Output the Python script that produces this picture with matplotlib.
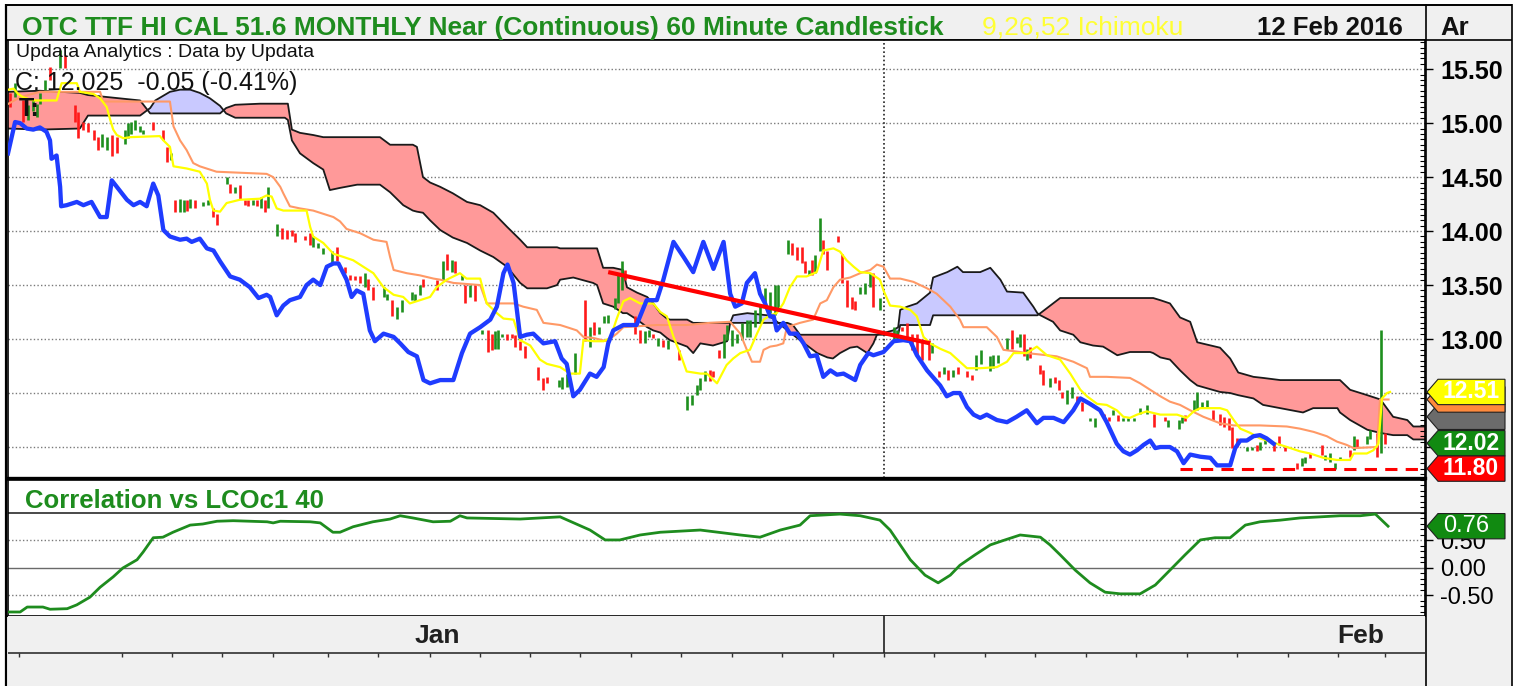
import numpy as np
import matplotlib
matplotlib.use("Agg")
import matplotlib.pyplot as plt
from matplotlib.patches import Polygon, Rectangle
from matplotlib.ticker import MultipleLocator
import matplotlib.transforms as mtransforms

plt.rcParams['font.family'] = ['Liberation Sans', 'DejaVu Sans']

# ---------------- DATA (x in trading-day units, prices) ----------------
title_text = "OTC TTF HI CAL 51.6 MONTHLY Near (Continuous) 60 Minute Candlestick"
study_text = "9,26,52 Ichimoku"
date_text = "12 Feb 2016"
corr_title = "Correlation vs LCOc1 40"
info_text = "Updata Analytics : Data by Updata"
close_text = "C: 12.025  -0.05 (-0.41%)"

price_ticks = [12.0, 12.5, 13.0, 13.5, 14.0, 14.5, 15.0, 15.5]
corr_ticks = [-0.5, 0.0, 0.5]
day_ticks = [0.22, 2.25, 3.24, 4.23, 5.24, 6.32, 7.31, 8.34, 9.33, 10.32, 11.30, 12.31, 13.30,
             14.31, 15.30, 16.30, 17.31, 18.30, 19.31, 20.30, 21.30, 22.29, 23.30, 24.29, 25.30,
             26.28, 27.21]
month_names = ["Jan", "Feb"]
month_label_pos = [8.48, 26.72]
month_break = 17.31

cloud_t = [0.00, 0.63, 1.42, 1.58, 2.21, 2.61, 2.81, 2.91, 3.20, 3.40,
           3.60, 3.79, 3.99, 4.19, 4.31, 4.49, 4.98, 5.47, 5.53, 5.61,
           5.77, 6.03, 6.23, 6.36, 6.56, 6.90, 7.35, 7.55, 7.81, 8.00,
           8.08, 8.20, 8.34, 8.54, 8.79, 9.07, 9.33, 9.59, 9.86, 10.12,
           10.26, 10.38, 10.65, 10.85, 10.91, 11.17, 11.56, 11.64, 11.76, 11.96,
           12.15, 12.23, 12.43, 12.63, 12.75, 12.89, 13.02, 13.08, 13.42, 13.54,
           13.68, 13.93, 14.21, 14.27, 14.33, 14.61, 15.00, 15.12, 15.40, 15.51,
           15.65, 15.79, 15.99, 16.19, 16.30, 16.44, 16.64, 16.78, 16.98, 17.10,
           17.17, 17.49, 17.59, 17.63, 17.77, 17.96, 18.22, 18.28, 18.56, 18.76,
           18.87, 19.21, 19.41, 19.61, 19.74, 20.06, 20.26, 20.34, 20.40, 20.65,
           20.79, 21.05, 21.19, 21.44, 21.64, 21.92, 22.17, 22.57, 22.63, 22.77,
           22.96, 23.16, 23.36, 23.50, 23.95, 24.15, 24.31, 24.61, 24.80, 25.14,
           25.59, 25.79, 26.27, 26.32, 26.52, 26.86, 27.12, 27.37, 27.65, 27.77,
           28.00]
span_b = [15.29, 15.30, 15.28, 15.26, 15.23, 15.21, 15.09, 15.09, 15.09, 15.09,
          15.09, 15.09, 15.09, 15.09, 15.14, 15.17, 15.18, 15.18, 15.18, 14.94,
          14.91, 14.89, 14.87, 14.87, 14.87, 14.87, 14.87, 14.80, 14.80, 14.80,
          14.78, 14.50, 14.45, 14.41, 14.35, 14.27, 14.24, 14.17, 14.04, 13.92,
          13.85, 13.85, 13.85, 13.85, 13.84, 13.84, 13.84, 13.84, 13.66, 13.66,
          13.64, 13.48, 13.43, 13.39, 13.33, 13.24, 13.19, 13.18, 13.18, 13.15,
          13.15, 13.15, 13.15, 13.15, 13.15, 13.15, 13.15, 13.15, 13.15, 13.13,
          13.04, 13.04, 13.04, 13.04, 13.04, 13.04, 13.04, 13.04, 13.04, 13.04,
          13.04, 13.04, 13.04, 13.13, 13.13, 13.13, 13.13, 13.22, 13.22, 13.22,
          13.22, 13.22, 13.22, 13.22, 13.22, 13.22, 13.22, 13.22, 13.24, 13.33,
          13.38, 13.38, 13.38, 13.38, 13.38, 13.38, 13.38, 13.38, 13.38, 13.36,
          13.33, 13.20, 13.16, 12.97, 12.92, 12.82, 12.69, 12.65, 12.64, 12.62,
          12.62, 12.62, 12.62, 12.62, 12.53, 12.48, 12.44, 12.28, 12.25, 12.19,
          12.19]
span_a = [14.95, 14.94, 14.95, 15.07, 15.07, 15.07, 15.14, 15.21, 15.29, 15.31,
          15.31, 15.28, 15.23, 15.16, 15.09, 15.05, 15.05, 15.05, 15.03, 14.84,
          14.72, 14.63, 14.57, 14.38, 14.40, 14.43, 14.43, 14.36, 14.24, 14.19,
          14.18, 14.17, 14.10, 14.01, 13.94, 13.89, 13.82, 13.76, 13.67, 13.52,
          13.47, 13.47, 13.47, 13.50, 13.55, 13.57, 13.52, 13.50, 13.33, 13.30,
          13.24, 13.24, 13.18, 13.11, 13.08, 13.06, 13.01, 12.99, 12.93, 12.87,
          12.96, 12.94, 12.98, 13.15, 13.22, 13.24, 13.22, 13.19, 13.08, 13.04,
          12.99, 12.94, 12.87, 12.83, 12.82, 12.87, 12.92, 12.93, 12.87, 12.96,
          13.04, 13.08, 13.11, 13.27, 13.30, 13.33, 13.43, 13.57, 13.62, 13.67,
          13.62, 13.62, 13.66, 13.55, 13.44, 13.43, 13.30, 13.24, 13.22, 13.16,
          13.08, 13.04, 12.97, 12.94, 12.93, 12.85, 12.88, 12.88, 12.87, 12.83,
          12.81, 12.71, 12.62, 12.57, 12.51, 12.50, 12.48, 12.45, 12.39, 12.36,
          12.32, 12.36, 12.36, 12.32, 12.25, 12.16, 12.13, 12.11, 12.11, 12.07,
          12.07]

tenkan_t = [0.01, 0.11, 0.20, 0.30, 0.50, 0.96, 1.06, 1.36, 1.42, 1.69,
            1.82, 1.95, 2.02, 2.08, 2.15, 2.28, 2.41, 3.00, 3.07, 3.20,
            3.27, 3.53, 3.79, 3.93, 3.99, 4.06, 4.19, 4.32, 4.58, 4.98,
            5.11, 5.21, 5.31, 5.44, 5.90, 5.97, 6.03, 6.23, 6.43, 6.63,
            6.82, 7.02, 7.22, 7.42, 7.62, 7.81, 7.94, 8.14, 8.34, 8.47,
            8.67, 8.80, 8.93, 9.06, 9.33, 9.46, 9.66, 9.79, 9.99, 10.12,
            10.32, 10.51, 10.65, 10.91, 11.11, 11.30, 11.37, 11.57, 11.77, 11.90,
            12.03, 12.16, 12.29, 12.49, 12.75, 12.89, 13.02, 13.15, 13.28, 13.41,
            13.68, 13.81, 14.01, 14.20, 14.33, 14.47, 14.66, 14.80, 14.93, 15.06,
            15.19, 15.32, 15.45, 15.59, 15.78, 15.98, 16.11, 16.31, 16.44, 16.57,
            16.71, 16.84, 17.04, 17.23, 17.30, 17.43, 17.63, 17.83, 17.96, 18.09,
            18.22, 18.42, 18.62, 18.81, 18.95, 19.21, 19.54, 19.74, 19.87, 20.13,
            20.33, 20.53, 20.79, 20.99, 21.19, 21.32, 21.52, 21.71, 21.91, 22.04,
            22.17, 22.31, 22.50, 22.77, 23.10, 23.29, 23.43, 23.56, 23.95, 24.09,
            24.22, 24.35, 24.55, 24.74, 24.94, 25.14, 25.34, 25.53, 25.73, 25.99,
            26.26, 26.52, 26.59, 26.85, 26.98, 27.08, 27.15, 27.25, 27.31]
tenkan_p = [15.31, 15.32, 15.27, 15.24, 15.21, 15.21, 15.37, 15.37, 15.29, 15.27,
            15.23, 15.15, 15.03, 14.94, 14.89, 14.86, 14.87, 14.88, 14.84, 14.78,
            14.60, 14.58, 14.55, 14.44, 14.29, 14.19, 14.18, 14.26, 14.29, 14.30,
            14.33, 14.32, 14.21, 14.19, 14.19, 14.04, 13.95, 13.89, 13.79, 13.76,
            13.73, 13.67, 13.61, 13.48, 13.41, 13.39, 13.33, 13.36, 13.39, 13.48,
            13.55, 13.58, 13.61, 13.56, 13.56, 13.33, 13.24, 13.19, 13.18, 12.99,
            12.94, 12.81, 12.77, 12.74, 12.68, 12.68, 12.99, 12.98, 12.98, 13.01,
            13.19, 13.35, 13.38, 13.33, 13.33, 13.25, 13.21, 13.02, 12.87, 12.70,
            12.68, 12.68, 12.59, 12.76, 12.82, 12.87, 12.90, 13.05, 13.18, 13.22,
            13.24, 13.33, 13.48, 13.58, 13.58, 13.62, 13.82, 13.84, 13.81, 13.73,
            13.67, 13.62, 13.61, 13.55, 13.45, 13.31, 13.30, 13.27, 13.21, 13.02,
            12.96, 12.91, 12.87, 12.79, 12.73, 12.73, 12.74, 12.79, 12.87, 12.87,
            12.93, 12.85, 12.81, 12.68, 12.53, 12.47, 12.40, 12.39, 12.34, 12.28,
            12.27, 12.30, 12.33, 12.30, 12.30, 12.27, 12.33, 12.36, 12.36, 12.34,
            12.25, 12.17, 12.13, 12.08, 12.05, 12.02, 11.99, 11.96, 11.94, 11.90,
            11.88, 11.88, 11.94, 11.94, 11.97, 12.03, 12.45, 12.50, 12.51]

kijun_t = [0.01, 0.24, 0.63, 1.82, 1.88, 3.20, 3.27, 3.40, 3.53, 3.66,
           3.79, 4.12, 5.11, 5.24, 5.38, 5.44, 5.57, 5.77, 6.03, 6.23,
           6.43, 6.56, 6.69, 6.96, 7.22, 7.48, 7.55, 7.62, 7.88, 8.14,
           8.41, 8.54, 8.80, 9.33, 9.46, 9.99, 10.18, 10.45, 10.58, 10.91,
           11.11, 11.24, 11.37, 11.57, 11.83, 12.03, 12.16, 12.82, 13.41, 13.87,
           14.27, 14.47, 14.60, 14.70, 14.86, 14.93, 15.06, 15.19, 15.32, 15.39,
           15.65, 15.91, 16.05, 16.18, 16.31, 16.44, 16.64, 16.84, 17.04, 17.17,
           17.30, 17.43, 17.63, 17.89, 18.16, 18.35, 18.62, 18.81, 18.88, 19.34,
           19.54, 19.67, 20.00, 20.13, 20.53, 20.72, 21.05, 21.32, 21.38, 21.71,
           22.17, 22.37, 22.57, 22.77, 22.96, 23.16, 23.36, 23.62, 23.95, 24.22,
           24.74, 25.27, 25.53, 25.80, 26.06, 26.26, 26.45, 26.59, 27.05, 27.11, 27.28]
kijun_p = [15.18, 15.24, 15.29, 15.29, 15.20, 15.20, 14.97, 14.84, 14.75, 14.63,
           14.60, 14.55, 14.53, 14.50, 14.41, 14.35, 14.23, 14.21, 14.19, 14.16,
           14.13, 14.09, 14.02, 13.98, 13.92, 13.90, 13.76, 13.64, 13.61, 13.59,
           13.56, 13.55, 13.52, 13.50, 13.33, 13.33, 13.30, 13.27, 13.15, 13.13,
           13.10, 13.08, 13.02, 13.01, 12.98, 13.05, 13.11, 13.13, 13.13, 13.15,
           13.16, 13.05, 12.90, 12.79, 12.79, 12.90, 12.93, 12.94, 12.96, 13.11,
           13.15, 13.18, 13.33, 13.36, 13.48, 13.55, 13.57, 13.61, 13.64, 13.69,
           13.67, 13.56, 13.56, 13.53, 13.47, 13.42, 13.30, 13.18, 13.11, 13.11,
           13.02, 12.90, 12.88, 12.87, 12.85, 12.84, 12.79, 12.73, 12.65, 12.65,
           12.64, 12.59, 12.53, 12.47, 12.42, 12.39, 12.34, 12.28, 12.22, 12.20,
           12.20, 12.19, 12.17, 12.14, 12.10, 12.05, 12.02, 11.99, 12.00, 12.44, 12.44]

chikou_t = [0.00, 0.14, 0.24, 0.37, 0.50, 0.63, 0.76, 0.83, 0.86, 0.96,
            1.03, 1.05, 1.16, 1.36, 1.49, 1.65, 1.82, 1.95, 2.05, 2.15,
            2.35, 2.48, 2.61, 2.74, 2.87, 2.97, 3.07, 3.20, 3.40, 3.53,
            3.63, 3.79, 3.93, 4.06, 4.19, 4.39, 4.58, 4.78, 4.95, 5.11,
            5.18, 5.31, 5.44, 5.57, 5.77, 5.90, 6.03, 6.17, 6.30, 6.43,
            6.53, 6.69, 6.79, 6.89, 7.02, 7.15, 7.25, 7.42, 7.62, 7.75,
            7.91, 8.08, 8.21, 8.34, 8.54, 8.80, 8.97, 9.13, 9.33, 9.53,
            9.66, 9.79, 9.87, 9.99, 10.12, 10.25, 10.38, 10.58, 10.81, 10.94,
            11.04, 11.17, 11.30, 11.50, 11.63, 11.77, 11.86, 11.96, 12.16, 12.42,
            12.62, 12.82, 12.95, 13.15, 13.35, 13.54, 13.74, 13.94, 14.14, 14.27,
            14.37, 14.50, 14.60, 14.76, 14.86, 14.96, 15.06, 15.13, 15.19, 15.32,
            15.45, 15.59, 15.72, 15.85, 15.98, 16.11, 16.25, 16.38, 16.51, 16.74,
            16.84, 17.00, 17.10, 17.30, 17.50, 17.69, 17.83, 17.96, 18.16, 18.29,
            18.42, 18.55, 18.68, 18.81, 18.95, 19.08, 19.21, 19.34, 19.54, 19.74,
            19.93, 20.13, 20.33, 20.46, 20.66, 20.86, 21.05, 21.19, 21.38, 21.58,
            21.71, 21.91, 22.04, 22.17, 22.31, 22.44, 22.57, 22.67, 22.77, 22.96,
            23.10, 23.23, 23.36, 23.56, 23.76, 23.89, 24.15, 24.25, 24.35, 24.48,
            24.61, 24.74, 24.87, 25.01]
chikou_p = [14.72, 15.01, 15.00, 14.95, 14.94, 14.96, 14.92, 14.84, 14.67, 14.70,
            14.41, 14.23, 14.24, 14.27, 14.24, 14.27, 14.13, 14.13, 14.47, 14.41,
            14.29, 14.24, 14.27, 14.23, 14.44, 14.33, 14.01, 13.95, 13.92, 13.93,
            13.90, 13.93, 13.84, 13.82, 13.72, 13.58, 13.55, 13.48, 13.38, 13.41,
            13.39, 13.22, 13.31, 13.36, 13.39, 13.50, 13.55, 13.50, 13.67, 13.70,
            13.70, 13.55, 13.39, 13.45, 13.42, 13.08, 12.98, 13.05, 13.02, 12.96,
            12.88, 12.84, 12.62, 12.59, 12.62, 12.62, 12.87, 13.05, 13.11, 13.18,
            13.30, 13.61, 13.69, 13.52, 13.02, 13.04, 13.05, 12.96, 12.98, 12.82,
            12.77, 12.47, 12.53, 12.68, 12.65, 12.74, 12.96, 13.08, 13.13, 13.13,
            13.36, 13.36, 13.55, 13.90, 13.76, 13.62, 13.90, 13.65, 13.90, 13.42,
            13.30, 13.33, 13.52, 13.61, 13.42, 13.33, 13.21, 13.21, 13.08, 13.15,
            13.05, 13.05, 12.96, 12.84, 12.85, 12.65, 12.71, 12.67, 12.68, 12.62,
            12.76, 12.87, 12.85, 12.88, 12.98, 12.99, 12.98, 12.85, 12.71, 12.64,
            12.57, 12.47, 12.50, 12.50, 12.37, 12.30, 12.27, 12.30, 12.25, 12.23,
            12.28, 12.34, 12.22, 12.27, 12.27, 12.23, 12.34, 12.45, 12.40, 12.34,
            12.23, 12.03, 11.96, 11.93, 11.97, 12.02, 12.06, 11.99, 12.00, 12.00,
            11.96, 11.85, 11.93, 11.91, 11.90, 11.83, 11.83, 11.99, 12.06, 12.06,
            12.10, 12.11, 12.08, 12.03]

candle_t = [0.04, 0.14, 0.30, 0.40, 0.50, 0.57, 0.63, 0.73, 0.83, 1.03, 1.13, 1.32, 1.39, 1.49, 1.59,
            1.69, 1.77, 1.85, 1.95, 2.05, 2.15, 2.31, 2.38, 2.44, 2.51, 2.61, 2.67, 2.87, 3.07, 3.14,
            3.23, 3.30, 3.40, 3.47, 3.53, 3.60, 3.70, 3.86, 3.96, 4.06, 4.12, 4.32, 4.39, 4.49, 4.59,
            4.68, 4.75, 4.85, 4.92, 5.00, 5.07, 5.13, 5.31,
            5.41, 5.51, 5.61, 5.67, 5.87, 5.97, 6.03, 6.13, 6.23, 6.40,
            6.50, 6.66, 6.76, 6.86, 6.96, 7.06, 7.12, 7.22, 7.42, 7.48,
            7.58, 7.68, 7.78, 7.98, 8.04, 8.14, 8.21, 8.47, 8.60, 8.67,
            8.77, 8.83, 8.97, 9.03, 9.13, 9.23, 9.36, 9.49, 9.56, 9.62,
            9.69, 9.76, 9.86, 9.95, 10.02, 10.12, 10.22, 10.48, 10.58, 10.65,
            10.88, 10.94, 11.04,
            11.21, 11.40, 11.50, 11.57, 11.67, 11.77, 11.86, 12.00, 12.06, 12.13,
            12.19, 12.39, 12.49, 12.59, 12.66, 12.75, 12.85, 12.95, 13.05, 13.25,
            13.41, 13.51, 13.61, 13.68, 13.77, 13.87, 13.94, 14.04, 14.14, 14.20,
            14.30, 14.40, 14.50, 14.60, 14.66, 14.76, 14.86, 14.96, 15.06, 15.16,
            15.22, 15.42, 15.49, 15.59, 15.69, 15.75, 15.82, 15.88, 15.95, 16.05,
            16.11, 16.18, 16.41, 16.48, 16.57,
            16.67, 16.74, 16.84, 16.94, 17.04, 17.10, 17.23, 17.50, 17.56, 17.66,
            17.76, 17.86, 17.96, 18.06, 18.19, 18.25, 18.39, 18.49, 18.58, 18.68,
            18.78, 18.95, 19.05, 19.13, 19.22, 19.41, 19.47, 19.57, 19.74, 19.84,
            19.93, 20.00, 20.07, 20.13, 20.20, 20.40, 20.46, 20.59, 20.69, 20.76,
            20.82, 20.92, 21.02, 21.12, 21.22, 21.38, 21.48, 21.65, 21.75, 21.84,
            21.94, 22.04, 22.14,
            22.24, 22.37, 22.50, 22.64, 22.87, 22.93, 23.13, 23.20, 23.26, 23.43,
            23.49, 23.59, 23.69, 23.82, 23.95, 24.02, 24.12, 24.18, 24.28, 24.48,
            24.58, 24.68, 24.74, 24.84, 25.01, 25.11, 25.24, 25.47, 25.57, 25.63,
            25.73, 25.96, 26.03, 26.13, 26.23, 26.32, 26.52, 26.59, 26.65, 26.85,
            26.92, 27.05, 27.13, 27.21]
candle_low = [15.15, 15.24, 15.01, 15.03, 15.11, 15.06, 15.18, 15.31, 15.40, 15.51, 15.51, 15.01, 14.86, 14.94, 14.92,
              14.84, 14.75, 14.78, 14.75, 14.70, 14.72, 14.81, 14.86, 14.90, 14.94, 14.92, 14.90, 14.94, 14.84, 14.64,
              14.66, 14.18, 14.18, 14.18, 14.19, 14.21, 14.21, 14.23, 14.24, 14.13, 14.06, 14.44, 14.35, 14.35, 14.30,
              14.24, 14.23, 14.24, 14.23, 14.21, 14.18, 14.21, 13.95,
              13.93, 13.93, 13.95, 13.90, 13.92, 13.87, 13.85, 13.84, 13.79, 13.70,
              13.72, 13.61, 13.55, 13.55, 13.52, 13.48, 13.45, 13.36, 13.39, 13.36,
              13.21, 13.19, 13.25, 13.36, 13.35, 13.41, 13.48, 13.45, 13.55, 13.64,
              13.62, 13.61, 13.55, 13.33, 13.39, 13.35, 13.05, 12.88, 12.90, 12.91,
              12.91, 13.02, 12.99, 13.01, 12.93, 12.90, 12.82, 12.62, 12.53, 12.59,
              12.56, 12.54, 12.56,
              12.68, 12.98, 12.93, 13.04, 13.05, 13.15, 13.15, 13.28, 13.33, 13.45,
              13.55, 13.05, 12.96, 12.96, 13.02, 13.01, 12.94, 12.93, 12.91, 12.81,
              12.34, 12.39, 12.48, 12.53, 12.61, 12.61, 12.65, 12.82, 12.82, 12.99,
              12.94, 12.96, 12.99, 13.02, 13.02, 13.11, 13.15, 13.30, 13.24, 13.22,
              13.27, 13.79, 13.78, 13.73, 13.70, 13.61, 13.59, 13.59, 13.61, 13.82,
              13.79, 13.64, 13.90, 13.52, 13.30,
              13.28, 13.27, 13.42, 13.42, 13.48, 13.30, 13.27, 12.99, 12.99, 13.07,
              13.02, 12.90, 12.84, 12.81, 12.81, 12.87, 12.65, 12.68, 12.62, 12.65,
              12.68, 12.65, 12.62, 12.71, 12.77, 12.70, 12.73, 12.78, 12.90, 12.91,
              12.96, 12.93, 12.84, 12.81, 12.82, 12.68, 12.57, 12.56, 12.59, 12.53,
              12.45, 12.40, 12.45, 12.40, 12.33, 12.24, 12.19, 12.27, 12.24, 12.30,
              12.24, 12.24, 12.24,
              12.24, 12.31, 12.31, 12.19, 12.24, 12.19, 12.17, 12.22, 12.24, 12.34,
              12.34, 12.36, 12.37, 12.25, 12.20, 12.19, 12.16, 11.99, 12.00, 11.96,
              11.97, 11.96, 11.97, 12.03, 11.96, 12.02, 11.96, 11.80, 11.82, 11.85,
              11.90, 11.93, 11.88, 11.86, 11.80, 11.88, 11.91, 11.97, 11.99, 12.03,
              12.07, 11.91, 11.94, 12.03]
candle_high = [15.28, 15.37, 15.21, 15.17, 15.21, 15.18, 15.28, 15.40, 15.52, 15.68, 15.63, 15.17, 15.10, 15.01, 15.00,
               14.94, 14.87, 14.90, 14.87, 14.89, 14.87, 14.94, 15.00, 15.01, 15.03, 14.97, 14.94, 15.01, 14.94, 14.78,
               14.72, 14.29, 14.30, 14.29, 14.29, 14.30, 14.29, 14.27, 14.29, 14.21, 14.16, 14.50, 14.44, 14.41, 14.43,
               14.29, 14.29, 14.29, 14.29, 14.32, 14.29, 14.41, 14.07,
               14.03, 14.01, 14.01, 13.98, 13.95, 13.98, 13.95, 13.89, 13.84, 13.82,
               13.85, 13.67, 13.59, 13.58, 13.58, 13.61, 13.56, 13.48, 13.48, 13.42,
               13.36, 13.30, 13.36, 13.44, 13.42, 13.50, 13.56, 13.55, 13.72, 13.79,
               13.73, 13.72, 13.59, 13.50, 13.50, 13.50, 13.08, 13.08, 13.05, 13.07,
               13.08, 13.05, 13.05, 13.05, 13.04, 12.98, 12.94, 12.74, 12.64, 12.65,
               12.62, 12.65, 12.68,
               12.87, 13.36, 13.11, 13.16, 13.11, 13.21, 13.22, 13.38, 13.61, 13.72,
               13.64, 13.21, 13.08, 13.07, 13.08, 13.05, 13.01, 12.99, 12.99, 12.90,
               12.47, 12.48, 12.57, 12.64, 12.70, 12.71, 12.70, 12.90, 13.05, 13.13,
               13.08, 13.05, 13.15, 13.18, 13.18, 13.27, 13.31, 13.47, 13.44, 13.50,
               13.50, 13.92, 13.89, 13.85, 13.85, 13.72, 13.64, 13.73, 13.78, 14.12,
               13.92, 13.82, 13.95, 13.79, 13.55,
               13.39, 13.35, 13.48, 13.52, 13.61, 13.61, 13.38, 13.11, 13.08, 13.11,
               13.15, 13.05, 13.05, 12.99, 12.99, 12.96, 12.70, 12.74, 12.71, 12.71,
               12.74, 12.70, 12.67, 12.85, 12.90, 12.84, 12.85, 12.85, 13.01, 13.08,
               13.02, 13.05, 13.05, 12.91, 12.93, 12.76, 12.71, 12.64, 12.65, 12.62,
               12.51, 12.53, 12.56, 12.47, 12.42, 12.27, 12.27, 12.31, 12.28, 12.34,
               12.30, 12.27, 12.27,
               12.27, 12.36, 12.39, 12.31, 12.28, 12.25, 12.25, 12.28, 12.30, 12.44,
               12.51, 12.42, 12.44, 12.34, 12.31, 12.28, 12.27, 12.19, 12.08, 12.00,
               12.00, 12.02, 12.05, 12.08, 12.03, 12.10, 12.00, 11.85, 11.90, 11.91,
               11.94, 12.02, 11.93, 11.94, 11.85, 11.91, 11.97, 12.10, 12.07, 12.10,
               12.16, 12.13, 13.08, 12.13]
candle_up = [0, 1, 0, 1, 1, 1, 1, 1, 0, 1, 0, 0, 0, 0, 0,
             0, 0, 1, 1, 0, 0, 1, 1, 1, 1, 1, 1, 0, 0, 0,
             1, 0, 1, 1, 0, 1, 0, 1, 1, 0, 0, 1, 0, 1, 0,
             0, 0, 1, 0, 1, 0, 1, 1,
             0, 0, 0, 0, 0, 0, 1, 1, 1, 1,
             0, 0, 0, 0, 0, 1, 0, 0, 1, 1,
             0, 1, 1, 1, 1, 1, 0, 0, 1, 0,
             1, 0, 1, 0, 1, 0, 1, 0, 0, 1,
             1, 1, 0, 0, 0, 0, 0, 0, 0, 0,
             1, 1, 1,
             1, 0, 1, 0, 1, 1, 1, 1, 1, 1,
             0, 0, 0, 1, 1, 0, 1, 0, 1, 0,
             1, 1, 1, 1, 1, 0, 0, 0, 1, 1,
             1, 1, 1, 1, 1, 1, 1, 1, 1, 1,
             1, 1, 0, 0, 0, 0, 1, 0, 1, 1,
             0, 0, 0, 0, 0,
             0, 0, 1, 1, 1, 0, 1, 1, 1, 0,
             0, 0, 0, 0, 0, 1, 0, 1, 0, 1,
             0, 0, 0, 1, 1, 1, 1, 1, 1, 0,
             1, 1, 0, 1, 0, 0, 0, 1, 0, 0,
             0, 1, 1, 0, 0, 1, 1, 0, 0, 1,
             0, 1, 1,
             1, 1, 1, 0, 0, 1, 1, 1, 0, 1,
             1, 1, 1, 0, 0, 0, 0, 0, 0, 1,
             1, 0, 1, 1, 0, 0, 0, 0, 1, 1,
             0, 0, 1, 1, 1, 1, 0, 1, 0, 1,
             1, 0, 1, 0]

trend_t = [11.86, 18.22]
trend_p = [13.62, 12.96]
support_level = 11.80
support_start = 23.16

corr_t = [0.00, 0.24, 0.38, 0.69, 0.83, 1.17, 1.36, 1.62, 1.82, 2.08,
          2.27, 2.55, 2.67, 2.87, 3.06, 3.26, 3.60, 3.85, 4.13, 4.45,
          5.12, 5.24, 5.38, 5.97, 6.17, 6.42, 6.56, 6.82, 7.21, 7.55,
          7.75, 8.00, 8.40, 8.74, 8.93, 9.07, 10.12, 10.91, 11.50, 11.80,
          12.09, 12.49, 12.89, 13.68, 14.47, 14.86, 15.26, 15.65, 15.85, 16.44,
          16.84, 17.23, 17.43, 17.63, 17.83, 18.12, 18.38, 18.62, 18.81, 19.11,
          19.41, 19.70, 20.00, 20.40, 20.59, 20.79, 21.09, 21.38, 21.68, 21.98,
          22.37, 22.67, 22.96, 23.26, 23.56, 23.85, 24.15, 24.45, 24.74, 25.14,
          25.53, 25.93, 26.32, 26.72, 27.02, 27.27]
corr_v = [-0.80, -0.80, -0.71, -0.71, -0.75, -0.74, -0.67, -0.53, -0.35, -0.16,
          0.00, 0.15, 0.29, 0.55, 0.56, 0.65, 0.78, 0.80, 0.85, 0.86,
          0.84, 0.82, 0.85, 0.84, 0.82, 0.65, 0.65, 0.75, 0.84, 0.89,
          0.95, 0.91, 0.84, 0.85, 0.95, 0.91, 0.89, 0.93, 0.69, 0.51,
          0.51, 0.60, 0.65, 0.69, 0.60, 0.56, 0.69, 0.78, 0.95, 0.98,
          0.95, 0.87, 0.69, 0.42, 0.15, -0.13, -0.27, -0.13, 0.05, 0.24,
          0.42, 0.51, 0.60, 0.56, 0.42, 0.24, -0.04, -0.27, -0.44, -0.47,
          -0.47, -0.31, -0.04, 0.24, 0.51, 0.55, 0.55, 0.78, 0.84, 0.87,
          0.91, 0.93, 0.95, 0.95, 0.98, 0.76]

# right-edge value tags: value, text, colour
tag_vals = [12.28, 12.44, 12.51, 12.02, 11.80]
tag_texts = ["", "", "12.51", "12.02", "11.80"]
tag_colors = ["#6b6b6b", "#ff8a3d", "#ffff00", "#118a11", "#ff0000"]
corr_last = 0.76

# ---------------- LAYOUT ----------------
W, H = 1520.0, 686.0
fig = plt.figure(figsize=(W / 100, H / 100), dpi=100)
fig.patch.set_facecolor("white")


def rect(x0, y0, x1, y1):
    return [x0 / W, 1 - y1 / H, (x1 - x0) / W, (y1 - y0) / H]


GRAY = "#f0f0f0"
GREEN = "#1e8c1e"
bg = fig.add_axes([0, 0, 1, 1])
bg.set_xlim(0, W)
bg.set_ylim(H, 0)
bg.axis("off")
bg.add_patch(Rectangle((5, 5), 1507, 35, fc=GRAY, ec="none"))
bg.add_patch(Rectangle((1426, 40), 86, 646, fc=GRAY, ec="none"))
bg.add_patch(Rectangle((8, 616), 1418, 70, fc=GRAY, ec="none"))
for xs, ys, lw in [([5.5, 5.5], [4, 686], 1.6), ([5, 1512], [4.5, 4.5], 1.4),
                   ([1512, 1512], [4, 686], 1.2), ([1426, 1426], [4, 686], 1.2),
                   ([5, 1512], [40, 40], 1.2)]:
    bg.plot(xs, ys, color="black", lw=lw, solid_capstyle="butt")

# ---------------- MAIN PRICE PANEL ----------------
ax = fig.add_axes(rect(8, 40, 1425, 478))
ax.set_facecolor("white")

for y in price_ticks:
    ax.axhline(y, color="#7a7a7a", lw=1.0, ls=(0, (1, 1.6)), zorder=0.5)
ax.axvline(month_break, color="#222222", lw=1.2, ls=(0, (1, 1.5)), zorder=0.6)

ct = np.array(cloud_t)
sa = np.array(span_a)
sb = np.array(span_b)
ax.fill_between(ct, sa, sb, where=sa >= sb, interpolate=True, color="#c9c9ff", lw=0, zorder=1)
ax.fill_between(ct, sa, sb, where=sa < sb, interpolate=True, color="#ff9999", lw=0, zorder=1)
ax.plot(ct, sa, color="#1a1a1a", lw=1.3, zorder=1.5)
ax.plot(ct, sb, color="#1a1a1a", lw=1.3, zorder=1.5)

cols = ["#1e8f1e" if u else "#ff1a1a" for u in candle_up]
ax.vlines(candle_t, candle_low, candle_high, colors=cols, lw=1.9, zorder=3)

ax.plot(kijun_t, kijun_p, color="#ff9966", lw=1.5, zorder=4)
ax.plot(tenkan_t, tenkan_p, color="#ffff00", lw=1.6, zorder=5)
ax.plot(chikou_t, chikou_p, color="#1f3cff", lw=3.1, zorder=6, solid_joinstyle="round")
ax.plot(trend_t, trend_p, color="#ff0000", lw=3.0, zorder=7, solid_capstyle="butt")
ax.hlines(support_level, support_start, 28.0, color="#ff0000", lw=2.2, ls=(0, (4, 2.7)), zorder=7)

ax.set_xlim(0, 28.0)
ax.set_ylim(11.713, 15.77)
ax.set_xticks([])
ax.yaxis.tick_right()
ax.set_yticks(price_ticks)
ax.set_yticklabels(["%.2f" % v if v >= 13 else "" for v in price_ticks],
                   fontsize=18, fontweight="bold")
ax.yaxis.set_minor_locator(MultipleLocator(0.05))
ax.tick_params(axis="y", which="major", direction="out", length=6, width=1.0, pad=5,
               right=True, left=False)
ax.tick_params(axis="y", which="minor", direction="in", length=3.5, width=0.8,
               right=True, left=False)
ax.tick_params(axis="x", bottom=False)
for s in ax.spines.values():
    s.set_linewidth(1.2)
    s.set_color("black")
ax.spines["bottom"].set_linewidth(2.4)

# value tags on the right edge
X0 = (1427 - 8) / 1417.0
XB = (1438 - 8) / 1417.0
X1 = (1505 - 8) / 1417.0
XT = (1443 - 8) / 1417.0


def tag(axis, pos, text, fc, hh, fs, weight="bold"):
    tr = mtransforms.blended_transform_factory(axis.transAxes, axis.transData)
    poly = Polygon([(X0, pos), (XB, pos + hh / 2), (X1, pos + hh / 2), (X1, pos - hh / 2),
                    (XB, pos - hh / 2)], closed=True, transform=tr, fc=fc, ec="#202020",
                   lw=0.8, clip_on=False, zorder=20)
    axis.add_artist(poly)
    if text:
        axis.text(XT, pos, text, transform=tr, color="white", fontsize=fs, fontweight=weight,
                  va="center", ha="left", clip_on=False, zorder=21)


TAG_H = 0.235
# nudge labelled tags upward so they do not overlap
labelled = sorted([i for i in range(len(tag_vals)) if tag_texts[i]], key=lambda i: tag_vals[i])
tag_pos = list(tag_vals)
prev = -1e9
for i in labelled:
    tag_pos[i] = max(tag_vals[i], prev + TAG_H)
    prev = tag_pos[i]
order = [i for i in range(len(tag_vals)) if not tag_texts[i]] + labelled[::-1]
for i in order:
    tag(ax, tag_pos[i], tag_texts[i], tag_colors[i], TAG_H, 16.5)

# ---------------- CORRELATION PANEL ----------------
ax2 = fig.add_axes(rect(8, 480, 1425, 616))
ax2.set_facecolor("white")
ax2.axhline(1.0, color="#2a2a2a", lw=1.2, zorder=1)
ax2.axhline(0.0, color="#6a6a6a", lw=1.0, zorder=1)
for v in (0.5, -0.5):
    ax2.axhline(v, color="#7a7a7a", lw=1.0, ls=(0, (1, 1.6)), zorder=1)
ax2.plot(corr_t, corr_v, color=GREEN, lw=2.0, zorder=3)
ax2.set_xlim(0, 28.0)
ax2.set_ylim(-0.873, 1.6)
ax2.set_xticks([])
ax2.yaxis.tick_right()
ax2.set_yticks(corr_ticks)
ax2.set_yticklabels(["%.2f" % v for v in corr_ticks], fontsize=17)
ax2.yaxis.set_minor_locator(MultipleLocator(0.1))
ax2.tick_params(axis="y", which="major", direction="out", length=6, width=1.0, pad=5,
                right=True, left=False)
ax2.tick_params(axis="y", which="minor", direction="in", length=3.5, width=0.8,
                right=True, left=False)
for s in ax2.spines.values():
    s.set_linewidth(1.2)
    s.set_color("black")
tag(ax2, corr_last, "%.2f" % corr_last, "#118a11", 0.46, 17, weight="normal")

# ---------------- DATE BAND ----------------
ax3 = fig.add_axes(rect(8, 616, 1425, 686))
ax3.set_facecolor(GRAY)
ax3.set_xlim(0, 28.0)
ax3.set_ylim(0, 1)
LINE_Y = (686 - 653) / 70.0
ax3.axhline(LINE_Y, color="#303030", lw=1.2)
ax3.vlines(day_ticks, LINE_Y - 0.06, LINE_Y, color="#303030", lw=1.0)
ax3.vlines([month_break], LINE_Y, 1.0, color="#202020", lw=1.2)
for name, pos in zip(month_names, month_label_pos):
    ax3.text(pos, 0.72, name, ha="center", va="center", fontsize=19, fontweight="bold",
             color="#202020")
ax3.set_xticks([])
ax3.set_yticks([])
for s in ax3.spines.values():
    s.set_visible(False)

# ---------------- TEXTS ----------------
def ftext(x, y, s, **kw):
    fig.text(x / W, 1 - y / H, s, va="baseline", ha="left", zorder=30, **kw)


ftext(22, 35, title_text, color=GREEN, fontsize=19, fontweight="bold")
ftext(982, 35, study_text, color="#ffff33", fontsize=19)
ftext(1257, 35, date_text, color="#111111", fontsize=18.5, fontweight="bold")
ftext(1440, 35, "Ar", color="#111111", fontsize=18.5, fontweight="bold")
ftext(16, 57, info_text, color="#111111", fontsize=14)
ftext(15, 90, close_text, color="#111111", fontsize=18)
ftext(19, 116, "T:", color="#111111", fontsize=18, fontweight="bold")
ftext(25, 508, corr_title, color=GREEN, fontsize=18.5, fontweight="bold")

fig.savefig("out.png", dpi=100, facecolor=fig.get_facecolor())
